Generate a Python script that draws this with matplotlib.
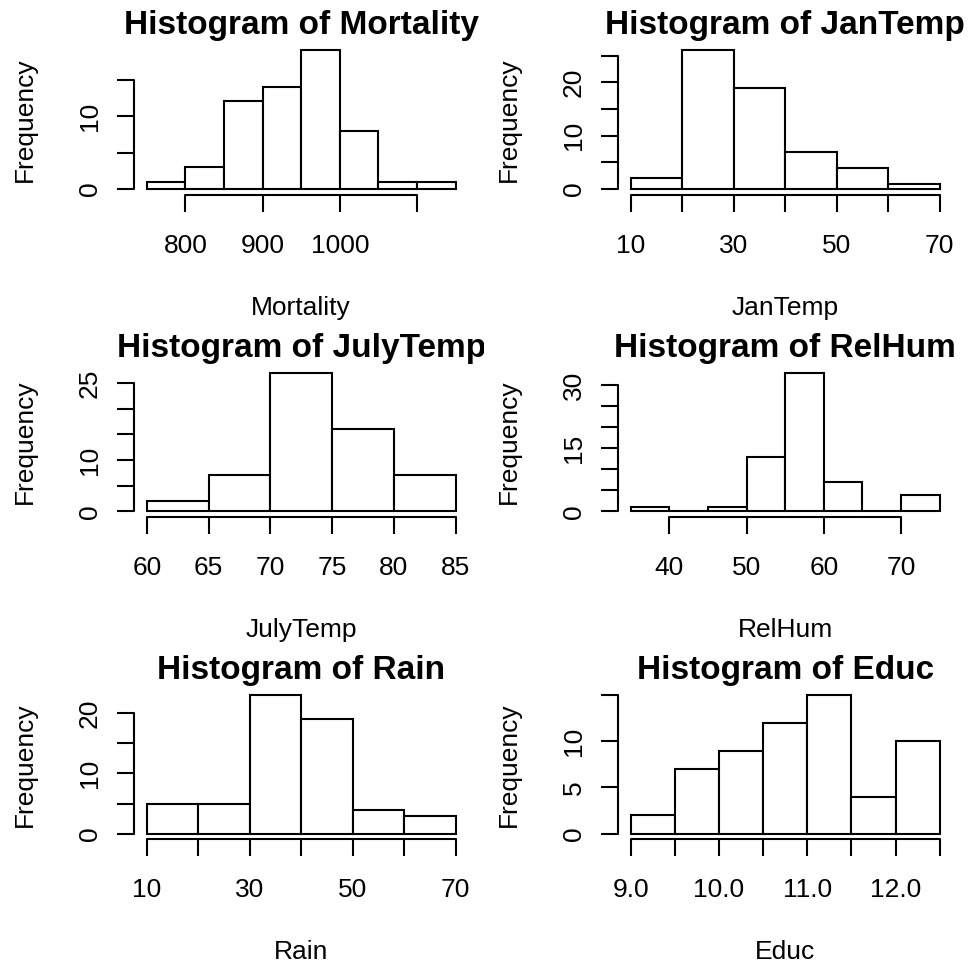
import numpy as np
import matplotlib
matplotlib.use("Agg")
import matplotlib.pyplot as plt
from matplotlib.transforms import Bbox, TransformedBbox

plt.rcParams['font.family'] = ['Liberation Sans', 'DejaVu Sans']

# ---- data: bin edges and counts for each variable ----
mortality_edges = [750, 800, 850, 900, 950, 1000, 1050, 1100, 1150]
mortality_counts = [1, 3, 12, 14, 19, 8, 1, 1]
mortality_xticks = [800, 900, 1000, 1100]
mortality_xlabels = ["800", "900", "1000", ""]
mortality_yticks = [0, 5, 10, 15]
mortality_ylabels = ["0", "", "10", ""]

jantemp_edges = [10, 20, 30, 40, 50, 60, 70]
jantemp_counts = [2, 26, 19, 7, 4, 1]
jantemp_xticks = [10, 20, 30, 40, 50, 60, 70]
jantemp_xlabels = ["10", "", "30", "", "50", "", "70"]
jantemp_yticks = [0, 5, 10, 15, 20, 25]
jantemp_ylabels = ["0", "", "10", "", "20", ""]

julytemp_edges = [60, 65, 70, 75, 80, 85]
julytemp_counts = [2, 7, 27, 16, 7]
julytemp_xticks = [60, 65, 70, 75, 80, 85]
julytemp_xlabels = ["60", "65", "70", "75", "80", "85"]
julytemp_yticks = [0, 5, 10, 15, 20, 25]
julytemp_ylabels = ["0", "", "10", "", "", "25"]

relhum_edges = [35, 40, 45, 50, 55, 60, 65, 70, 75]
relhum_counts = [1, 0, 1, 13, 33, 7, 0, 4]
relhum_xticks = [40, 50, 60, 70]
relhum_xlabels = ["40", "50", "60", "70"]
relhum_yticks = [0, 5, 10, 15, 20, 25, 30]
relhum_ylabels = ["0", "", "", "15", "", "", "30"]

rain_edges = [10, 20, 30, 40, 50, 60, 70]
rain_counts = [5, 5, 23, 19, 4, 3]
rain_xticks = [10, 20, 30, 40, 50, 60, 70]
rain_xlabels = ["10", "", "30", "", "50", "", "70"]
rain_yticks = [0, 5, 10, 15, 20]
rain_ylabels = ["0", "", "10", "", "20"]

educ_edges = [9.0, 9.5, 10.0, 10.5, 11.0, 11.5, 12.0, 12.5]
educ_counts = [2, 7, 9, 12, 15, 4, 10]
educ_xticks = [9.0, 9.5, 10.0, 10.5, 11.0, 11.5, 12.0, 12.5]
educ_xlabels = ["9.0", "", "10.0", "", "11.0", "", "12.0", ""]
educ_yticks = [0, 5, 10, 15]
educ_ylabels = ["0", "5", "10", ""]

panels = [
    ("Mortality", mortality_edges, mortality_counts, mortality_xticks,
     mortality_xlabels, mortality_yticks, mortality_ylabels),
    ("JanTemp", jantemp_edges, jantemp_counts, jantemp_xticks,
     jantemp_xlabels, jantemp_yticks, jantemp_ylabels),
    ("JulyTemp", julytemp_edges, julytemp_counts, julytemp_xticks,
     julytemp_xlabels, julytemp_yticks, julytemp_ylabels),
    ("RelHum", relhum_edges, relhum_counts, relhum_xticks,
     relhum_xlabels, relhum_yticks, relhum_ylabels),
    ("Rain", rain_edges, rain_counts, rain_xticks,
     rain_xlabels, rain_yticks, rain_ylabels),
    ("Educ", educ_edges, educ_counts, educ_xticks,
     educ_xlabels, educ_yticks, educ_ylabels),
]

# ---- layout (pixels) ----
W, H = 968, 967
fig = plt.figure(figsize=(W / 100, H / 100), dpi=100)
fig.patch.set_facecolor("white")

cell_w, cell_h = W / 2, H / 3
plot_left, plot_top = 134.4, 44.9
plot_w, plot_h = 333.6, 149.6
xlabel_baseline = 314.5   # pixels below the top of each cell
ylabel_center = 24.4      # pixels right of the left of each cell

LW = 1.5
BASE = 19
TITLE = 24

for i, (name, edges, counts, xt, xl, yt, yl) in enumerate(panels):
    r, c = divmod(i, 2)
    left = c * cell_w + plot_left
    top = r * cell_h + plot_top
    ax = fig.add_axes([left / W, 1 - (top + plot_h) / H, plot_w / W, plot_h / H])

    edges = np.asarray(edges, dtype=float)
    ax.bar(edges[:-1], counts, width=np.diff(edges), align="edge",
           color="white", edgecolor="black", linewidth=LW)

    span = edges[-1] - edges[0]
    ax.set_xlim(edges[0] - 0.04 * span, edges[-1] + 0.04 * span)
    cmax = max(counts)
    ax.set_ylim(-0.04 * cmax, 1.04 * cmax)

    for s in ("top", "right"):
        ax.spines[s].set_visible(False)
    ax.spines["left"].set_bounds(yt[0], yt[-1])
    ax.spines["bottom"].set_bounds(xt[0], xt[-1])
    for s in ("left", "bottom"):
        ax.spines[s].set_linewidth(LW)
        ax.spines[s].set_capstyle("round")

    ax.set_xticks(xt, xl)
    ax.set_yticks(yt, yl)
    ax.tick_params(direction="out", length=11.9, width=LW, labelsize=BASE)
    ax.tick_params(axis="x", pad=16.3)
    ax.tick_params(axis="y", pad=11.4)
    plt.setp(ax.get_yticklabels(), rotation=90, va="center")

    ax.set_xlabel(name, fontsize=BASE, va="baseline")
    ax.xaxis.set_label_coords(0.5, -(xlabel_baseline - plot_top - plot_h) / plot_h)
    ax.set_ylabel("Frequency", fontsize=BASE, va="center")
    ax.yaxis.set_label_coords((ylabel_center - plot_left) / plot_w, 0.5)

    title = ax.set_title("Histogram of " + name, fontsize=TITLE,
                         fontweight="bold", pad=7.6)
    cell_box = Bbox.from_bounds(c * 0.5, 1 - (r + 1) / 3, 0.5, 1 / 3)
    title.set_clip_box(TransformedBbox(cell_box, fig.transFigure))
    title.set_clip_on(True)

fig.savefig("out.png", dpi=100, facecolor="white")
